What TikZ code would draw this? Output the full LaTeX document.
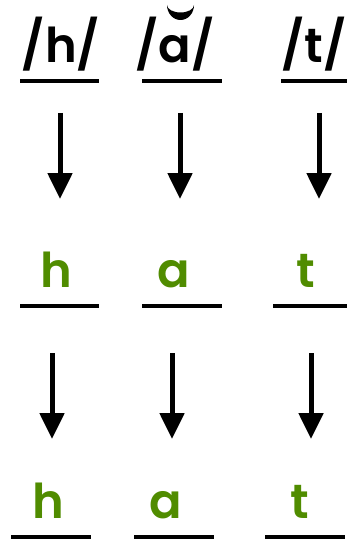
\documentclass[tikz,border=0pt]{standalone}
\usepackage{fontspec}
\setmainfont{Poppins}[BoldFont={Poppins SemiBold}]
\usetikzlibrary{arrows.meta}
\definecolor{leafgreen}{RGB}{80,140,0}
\tikzset{
  phon/.style={anchor=base, inner sep=0pt, font=\fontsize{48}{48}\selectfont\bfseries},
  letter/.style={phon, text=leafgreen},
  blank/.style={line width=4.5pt},
  down/.style={line width=5pt, -{Triangle[width=24pt,length=26pt]}},
}
\begin{document}
\begin{tikzpicture}[x=1pt,y=-1pt]
\useasboundingbox (0,0) rectangle (347,540);
% row 1
\node[phon] (p1) at (61,63) {/h/};
\node[phon] (p2) at (175,63) {/a/};
\node[phon] (p3) at (314,63) {/t/};
\fill (167,5) arc[start angle=180, end angle=0, x radius=13.5, y radius=15]
  arc[start angle=0, end angle=180, x radius=13.5, y radius=7.5] -- cycle;
\draw[blank] (20,81) coordinate (l1a) -- (99,81) coordinate (l1b);
\draw[blank] (142,81) coordinate (l2a) -- (222,81) coordinate (l2b);
\draw[blank] (281,81) coordinate (l3a) -- (347,81) coordinate (l3b);
% arrows 1
\coordinate (a1s) at (60,113); \coordinate (a1e) at (60,199);
\coordinate (a2s) at (180,113); \coordinate (a2e) at (180,199);
\coordinate (a3s) at (319,113); \coordinate (a3e) at (319,199);
\draw[down] (a1s) -- (a1e);
\draw[down] (a2s) -- (a2e);
\draw[down] (a3s) -- (a3e);
% row 2
\node[letter] (m1) at (56,287) {h};
\node[letter] (m2) at (174,287) {a};
\node[letter] (m3) at (306,287) {t};
\draw[blank] (20,306) coordinate (m1a) -- (99,306) coordinate (m1b);
\draw[blank] (142,306) coordinate (m2a) -- (222,306) coordinate (m2b);
\draw[blank] (273,306) coordinate (m3a) -- (347,306) coordinate (m3b);
% arrows 2
\coordinate (b1s) at (52,353); \coordinate (b1e) at (52,439);
\coordinate (b2s) at (172,353); \coordinate (b2e) at (172,439);
\coordinate (b3s) at (311,353); \coordinate (b3e) at (311,439);
\draw[down] (b1s) -- (b1e);
\draw[down] (b2s) -- (b2e);
\draw[down] (b3s) -- (b3e);
% row 3
\node[letter] (q1) at (48,518) {h};
\node[letter] (q2) at (166,518) {a};
\node[letter] (q3) at (300,518) {t};
\draw[blank] (11,537) coordinate (q1a) -- (91,537) coordinate (q1b);
\draw[blank] (134,537) coordinate (q2a) -- (214,537) coordinate (q2b);
\draw[blank] (265,537) coordinate (q3a) -- (345,537) coordinate (q3b);
\end{tikzpicture}
\end{document}
